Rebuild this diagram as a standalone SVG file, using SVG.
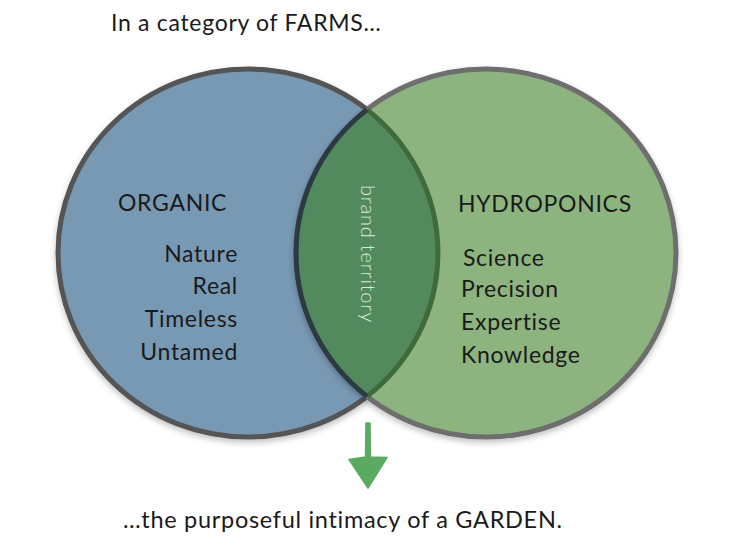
<svg xmlns="http://www.w3.org/2000/svg" width="738" height="550" viewBox="0 0 738 550">
<style>
.t{font-family:"Lato","Noto Sans",sans-serif;fill:#1a1a1a;font-size:23px;letter-spacing:0.7px}
.b{font-size:23.5px}
.w{font-family:"Lato","Noto Sans",sans-serif;fill:#d9ead9;font-size:20px;letter-spacing:0.8px;font-weight:300}
</style>
<defs>
<filter id="sh" x="-10%" y="-10%" width="120%" height="125%">
<feGaussianBlur in="SourceAlpha" stdDeviation="3"/>
<feOffset dx="0" dy="3" result="b"/>
<feComponentTransfer><feFuncA type="linear" slope="0.25"/></feComponentTransfer>
<feMerge><feMergeNode/><feMergeNode in="SourceGraphic"/></feMerge>
</filter>
</defs>
<rect width="738" height="550" fill="#fff"/>
<g id="organic">
<ellipse cx="248" cy="253" rx="190" ry="184" fill="#7899b4" stroke="#555" stroke-width="5" filter="url(#sh)"/>
</g>
<g id="hydroponics">
<ellipse cx="486" cy="253" rx="190" ry="184" fill="#8db47e" stroke="#6e6e6e" stroke-width="5" filter="url(#sh)"/>
</g>
<g id="brand-territory">
<path d="M367,109.6 A190,184 0 0 1 367,396.4 A190,184 0 0 1 367,109.6 Z" fill="#528a5e"/>
<path d="M367,109.6 A190,184 0 0 1 367,396.4" fill="none" stroke="#3f6b3c" stroke-width="5"/>
<path d="M367,396.4 A190,184 0 0 1 367,109.6" fill="none" stroke="#2c3a44" stroke-width="5"/>
<text class="w" transform="translate(361,254) rotate(90)" text-anchor="middle">brand territory</text>
</g>
<g id="labels">
<text class="t" x="111" y="31">In a category of FARMS…</text>
<text class="t" x="118" y="211">ORGANIC</text>
<text class="t" x="238" y="262" text-anchor="end">Nature</text>
<text class="t" x="238" y="294" text-anchor="end">Real</text>
<text class="t" x="238" y="327" text-anchor="end">Timeless</text>
<text class="t" x="238" y="360" text-anchor="end">Untamed</text>
<text class="t" x="458" y="212">HYDROPONICS</text>
<text class="t" x="463" y="266">Science</text>
<text class="t" x="461" y="297">Precision</text>
<text class="t" x="461" y="330">Expertise</text>
<text class="t" x="461" y="363">Knowledge</text>
<text class="t b" x="123" y="528">…the purposeful intimacy of a GARDEN.</text>
</g>
<g id="connectors">
<path d="M366,423 L370,423 L370.5,457 L387,457.5 L368,488 L349,459.5 L365.5,457 Z" fill="#5aab61" stroke="#5aab61" stroke-width="1.5" stroke-linejoin="round"/>
</g>
</svg>
